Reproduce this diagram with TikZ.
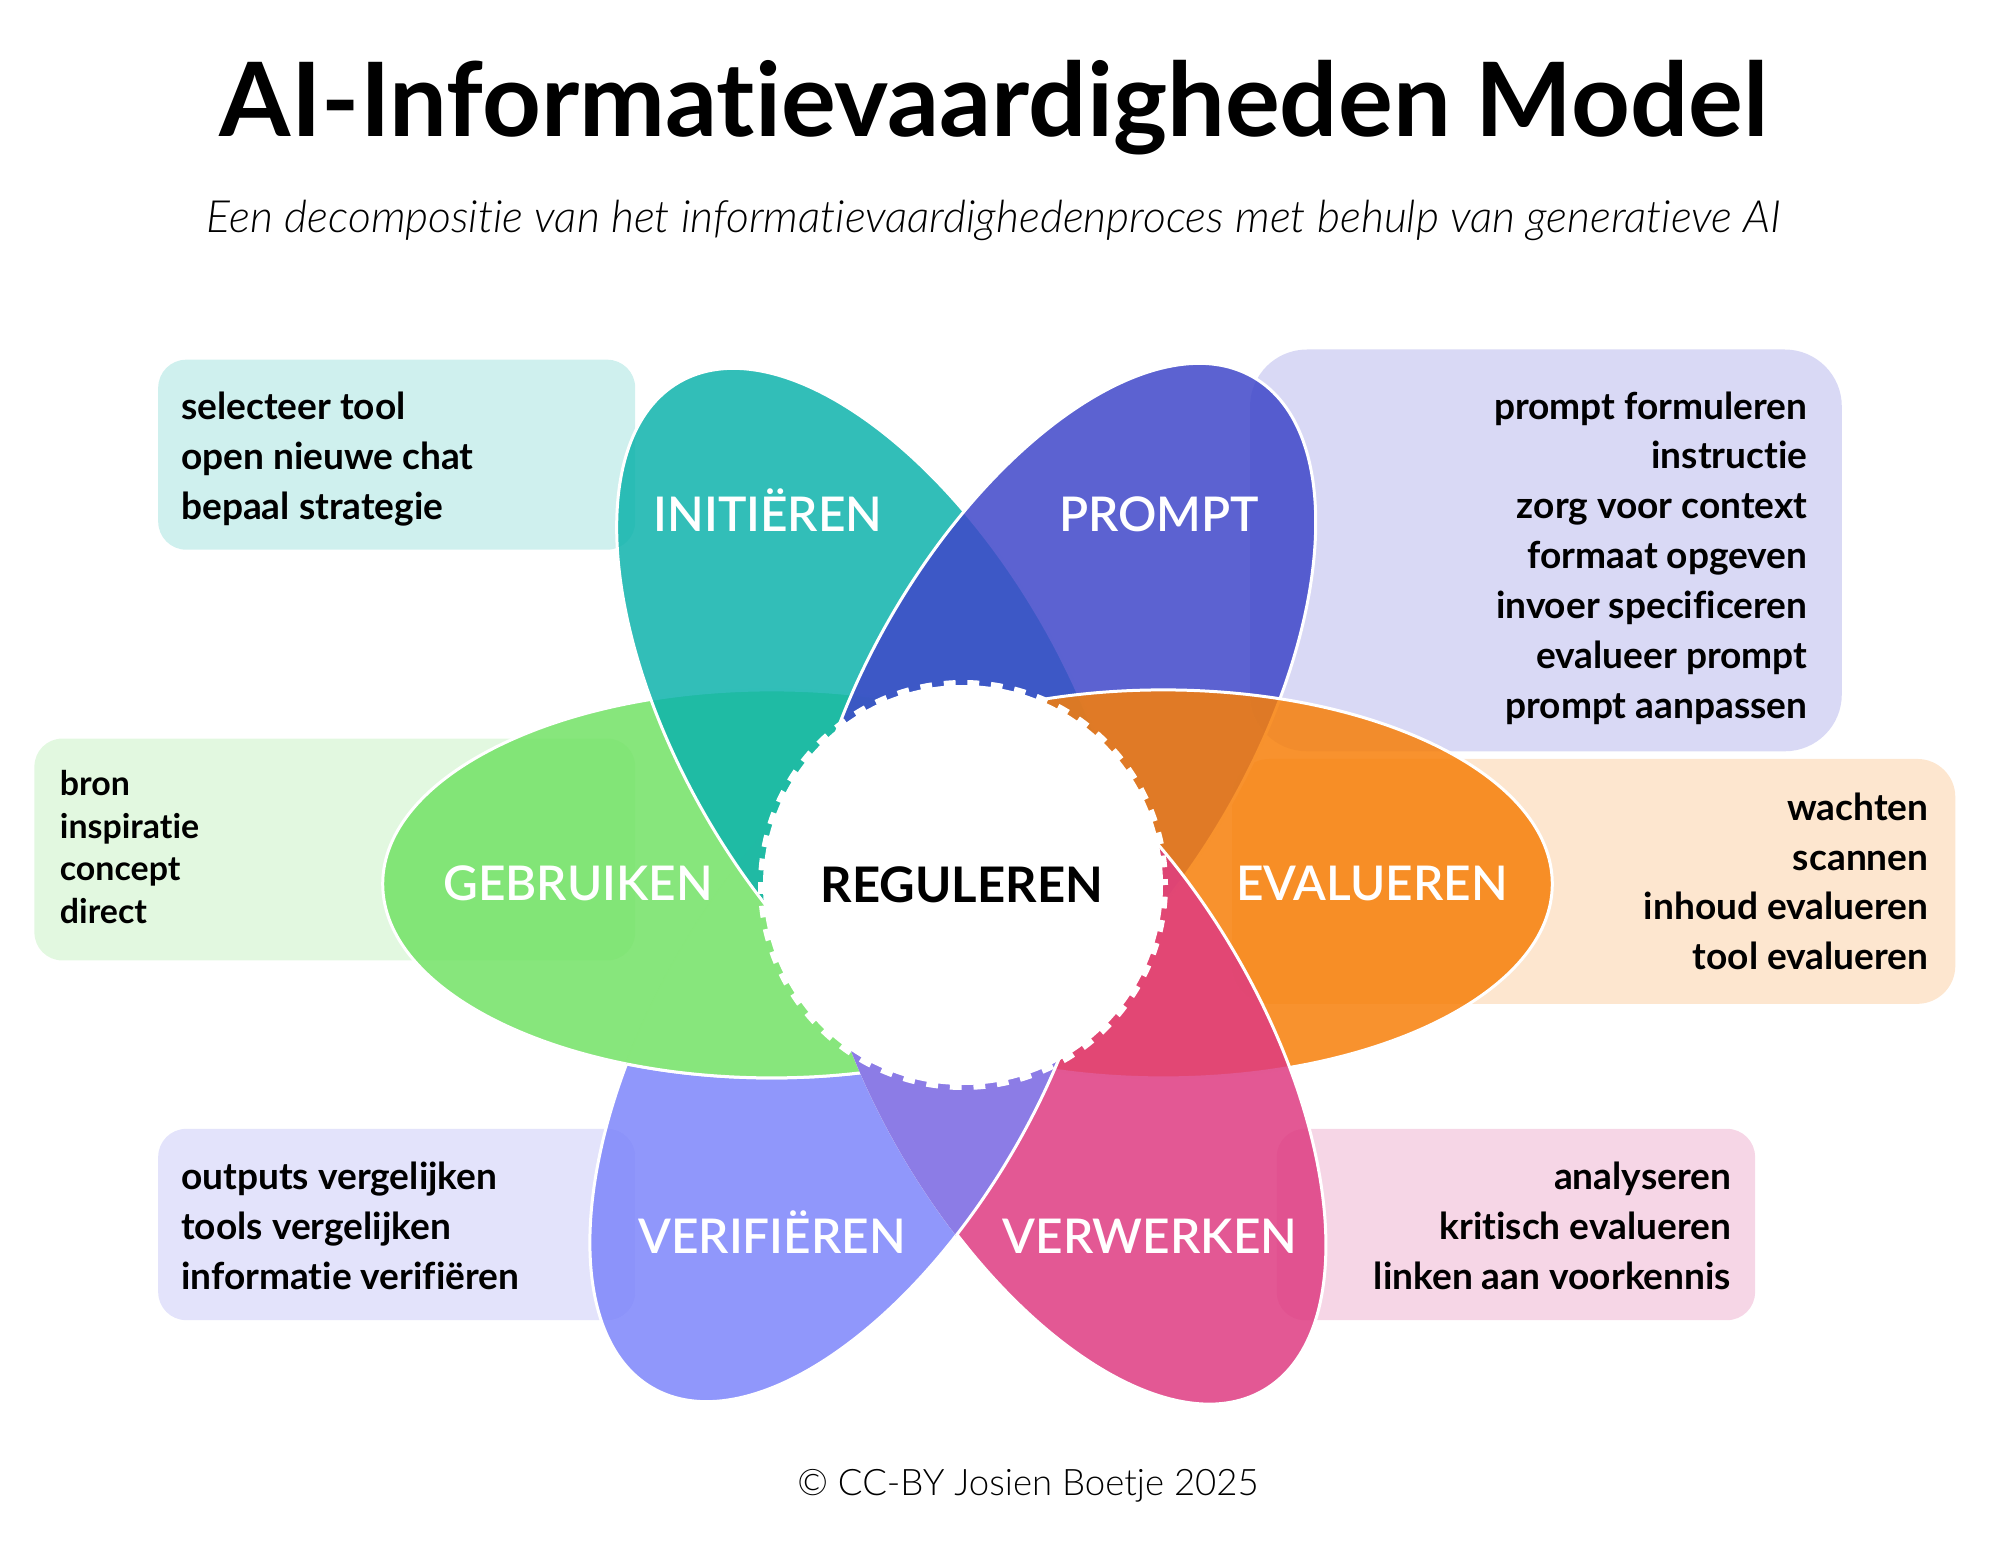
\documentclass[tikz,border=0pt]{standalone}
\usepackage{fontspec}
\setmainfont{Lato}[Ligatures=NoCommon]
\newfontfamily\lightfont{Lato Light}[ItalicFont={Lato Light Italic}, Ligatures=NoCommon]
\newfontfamily\semifont{Lato Semibold}[Ligatures=NoCommon]
\definecolor{tealpetal}{HTML}{0EB3AC}
\definecolor{promptpetal}{HTML}{3F47C9}
\definecolor{greenpetal}{HTML}{72E265}
\definecolor{greenonpurple}{HTML}{87E67C}
\definecolor{orangepetal}{HTML}{F77F09}
\definecolor{pinkpetal}{HTML}{DE3B81}
\definecolor{purplepetal}{HTML}{7D85FA}
\definecolor{purpleonpink}{HTML}{8C7CE6}
\definecolor{tealbox}{HTML}{CFF0EE}
\definecolor{promptbox}{HTML}{D9D9F5}
\definecolor{greenbox}{HTML}{E2F8E0}
\definecolor{orangebox}{HTML}{FDE6CF}
\definecolor{pinkbox}{HTML}{F6D6E6}
\definecolor{purplebox}{HTML}{E3E3FB}
\begin{document}
\begin{tikzpicture}
      \tikzset{petal/.style={draw=white, line width=.03cm, fill opacity=.85}}
      \tikzset{infobox/.style={inner sep=0pt}}
      \tikzset{infotext/.style={inner sep=0pt, align=flush left, font=\fontsize{10.55}{14.2}\bfseries\selectfont}}
      \tikzset{smalltext/.style={infotext, font=\fontsize{9.65}{12.2}\bfseries\selectfont}}
      \tikzset{righttext/.style={infotext, align=flush right}}
      \tikzset{petalname/.style={anchor=base, text=white, font=\fontsize{13.6}{17}\semifont\selectfont}}
      \useasboundingbox (0,0) rectangle (20,15.52);
%% Title
      \node[anchor=base, font=\fontsize{29.2}{32}\bfseries\selectfont] (title) at (9.94,14.155) {AI-Informatievaardigheden Model};
      \node[anchor=base, font=\fontsize{12.65}{15}\lightfont\itshape] (subtitle) at (9.94,13.19) {Een decompositie van het informatievaardighedenproces met behulp van generatieve AI};
      \node[anchor=base, font=\fontsize{10.4}{12}\lightfont] (credit) at (10.28,0.57) {© CC-BY Josien Boetje 2025};
%% Text boxes
      \node[infobox, fill=tealbox, rounded corners=.28cm, minimum width=4.77cm, minimum height=1.90cm] (boxinit) at (3.967,10.973) {};
      \node[infobox, fill=promptbox, rounded corners=.57cm, minimum width=5.918cm, minimum height=4.018cm] (boxprompt) at (15.459,10.016) {};
      \node[infobox, fill=greenbox, rounded corners=.28cm, minimum width=6.008cm, minimum height=2.219cm] (boxuse) at (3.348,7.025) {};
      \node[infobox, fill=orangebox, rounded corners=.38cm, minimum width=7.232cm, minimum height=2.449cm] (boxeval) at (15.937,6.706) {};
      \node[infobox, fill=pinkbox, rounded corners=.28cm, minimum width=4.783cm, minimum height=1.913cm] (boxproc) at (15.159,3.275) {};
      \node[infobox, fill=purplebox, rounded corners=.28cm, minimum width=4.77cm, minimum height=1.913cm] (boxverify) at (3.967,3.275) {};
%% Box texts
      \node[infotext, anchor=west, xshift=.23cm, yshift=-.04cm] (textinit) at (boxinit.west) {selecteer tool\\open nieuwe chat\\bepaal strategie};
      \node[righttext, anchor=east, xshift=-.344cm, yshift=-.077cm] (textprompt) at (boxprompt.east) {prompt formuleren\\instructie\\zorg voor context\\formaat opgeven\\invoer specificeren\\evalueer prompt\\prompt aanpassen};
      \node[smalltext, anchor=west, xshift=.255cm, yshift=.025cm] (textuse) at (boxuse.west) {bron\\inspiratie\\concept\\direct};
      \node[righttext, anchor=east, xshift=-.268cm] (texteval) at (boxeval.east) {wachten\\scannen\\inhoud evalueren\\tool evalueren};
      \node[righttext, anchor=east, xshift=-.24cm, yshift=-.01cm] (textproc) at (boxproc.east) {analyseren\\kritisch evalueren\\linken aan voorkennis};
      \node[infotext, anchor=west, xshift=.23cm, yshift=-.01cm] (textverify) at (boxverify.west) {outputs vergelijken\\tools vergelijken\\informatie verifiëren};
%% Petals
      \coordinate (hub) at (9.63,6.67);
      \coordinate (cinit) at (8.737,8.33);
      \coordinate (cprompt) at (10.587,8.38);
      \coordinate (cuse) at (7.717,6.681);
      \coordinate (ceval) at (11.633,6.681);
      \coordinate (cverify) at (8.469,5.01);
      \coordinate (cproc) at (10.689,4.985);
      \path[petal, fill=purplepetal, rotate around={60:(cverify)}] (cverify) ellipse (3.89 and 1.94);
      \path[petal, fill=greenpetal] (cuse) ellipse (3.89 and 1.94);
%The green petal hides the purple one
      \begin{scope}
		\clip[rotate around={60:(cverify)}] (cverify) ellipse (3.89 and 1.94);
		\path[draw=white, line width=.03cm, fill=greenonpurple] (cuse) ellipse (3.89 and 1.94);
      \end{scope}
      \foreach \name/\ang/\col in {init/120/tealpetal, prompt/60/promptpetal, eval/0/orangepetal, proc/120/pinkpetal}
		\path[petal, fill=\col, rotate around={\ang:(c\name)}] (c\name) ellipse (3.89 and 1.94);
%The purple petal lies on top of the pink one
      \begin{scope}
		\clip[rotate around={120:(cproc)}] (cproc) ellipse (3.905 and 1.955);
		\path[draw=white, line width=.03cm, fill=purpleonpink, rotate around={60:(cverify)}] (cverify) ellipse (3.89 and 1.94);
      \end{scope}
%% Hub
      \fill[white] (hub) circle (2.0);
      \draw[white, line width=.06cm, dash pattern=on .118cm off .1182cm, dash phase=.059cm] (hub) circle (2.02);
%% Names
      \node[petalname] (init) at (7.68,10.2) {INITIËREN};
      \node[petalname] (prompt) at (11.59,10.2) {PROMPT};
      \node[petalname] (use) at (5.78,6.52) {GEBRUIKEN};
      \node[petalname] (eval) at (13.72,6.52) {EVALUEREN};
      \node[petalname] (verify) at (7.72,2.99) {VERIFIËREN};
      \node[petalname] (proc) at (11.5,2.99) {VERWERKEN};
      \node[petalname, text=black, font=\fontsize{13.95}{17}\bfseries\selectfont] (reg) at (9.62,6.5) {REGULEREN};
\end{tikzpicture}
\end{document}
